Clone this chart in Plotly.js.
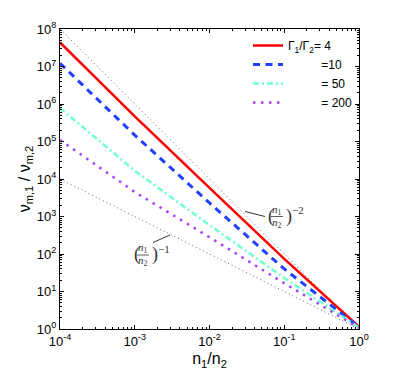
<!DOCTYPE html>
<html>
<head>
<meta charset="utf-8">
<script src="https://cdn.plot.ly/plotly-3.0.1.min.js"></script>
<style>
  html, body { margin: 0; padding: 0; background: #fff; }
  #graph { width: 405px; height: 374px; }
</style>
</head>
<body>
<div id="graph"></div>
<script>
// density ratio n1/n2 (x axis)
const nRatio = [1e-4, 1e-3, 1e-2, 1e-1, 1];

// nu_m,1 / nu_m,2 for each Gamma1/Gamma2
const gamma4 = [4.4e7, 4.7e5, 5.8e3, 74, 1.15];
const gamma10 = [1.22e7, 1.48e5, 2.3e3, 40, 1.12];
const gamma50 = [7.8e5, 1.66e4, 590, 23, 1.1];
const gamma200 = [1.1e5, 4.5e3, 280, 16.6, 1.07];

// guide lines (n1/n2)^-2 and (n1/n2)^-1
const guideSlope2 = [1e8, 1e6, 1e4, 1e2, 1];
const guideSlope1 = [1e4, 1e3, 1e2, 1e1, 1];

// tick labels
const xTickVals = [1e-4, 1e-3, 1e-2, 1e-1, 1];
const xTickText = ['10<sup>-4</sup>', '10<sup>-3</sup>', '10<sup>-2</sup>', '10<sup>-1</sup>', '10<sup>0</sup>'];
const yTickVals = [1, 1e1, 1e2, 1e3, 1e4, 1e5, 1e6, 1e7, 1e8];
const yTickText = ['10<sup>0</sup>', '10<sup>1</sup>', '10<sup>2</sup>', '10<sup>3</sup>', '10<sup>4</sup>',
                   '10<sup>5</sup>', '10<sup>6</sup>', '10<sup>7</sup>', '10<sup>8</sup>'];

const pad = '\u00a0'.repeat(10);
const legendNames = [
    'Γ<sub>1</sub>/Γ<sub>2</sub>= 4',
    pad + '=10',
    pad + '= 50',
    pad + '= 200'
];

const sans = 'Liberation Sans, Arial, sans-serif';
const serif = 'Liberation Serif, DejaVu Serif, serif';

const traces = [
    {x: nRatio, y: guideSlope2, mode: 'lines', showlegend: false,
     line: {color: '#666', width: 1, dash: '1px,3px'}},
    {x: nRatio, y: guideSlope1, mode: 'lines', showlegend: false,
     line: {color: '#666', width: 1, dash: '1px,3px'}},
    {x: nRatio, y: gamma4, mode: 'lines', name: legendNames[0],
     line: {color: '#ff0000', width: 2.5}},
    {x: nRatio, y: gamma10, mode: 'lines', name: legendNames[1],
     line: {color: '#1f40ff', width: 3, dash: '7px,5.5px'}},
    {x: nRatio, y: gamma50, mode: 'lines', name: legendNames[2],
     line: {color: '#70ffd2', width: 2.5, dash: '6px,3px,2px,3px'}},
    {x: nRatio, y: gamma200, mode: 'lines', name: legendNames[3],
     line: {color: '#a640ff', width: 2.5, dash: '2.5px,5.5px'}}
];

// minor ticks 2..9 in every decade
function minorTicks(lo, hi) {
    const out = [];
    for (let e = lo; e < hi; e++) {
        for (let m = 2; m <= 9; m++) out.push(m * Math.pow(10, e));
    }
    return out;
}

// plot area in pixels, used to place the hand-made fraction labels
const L = 60, R = 359, T = 29, B = 329;
const px = v => (v - L) / (R - L);
const py = v => 1 - (v - T) / (B - T);

const annotations = [];
const shapes = [];

// draws (n1/n2)^exp as a stacked fraction, like the LaTeX label
function fracLabel(x0, cy, exp, lead) {
    const base = {xref: 'paper', yref: 'paper', showarrow: false,
                  font: {family: serif, size: 11, color: '#333'}};
    annotations.push(Object.assign({}, base, {
        x: px(x0), y: py(cy), xanchor: 'left', yanchor: 'middle', text: '(',
        font: {family: serif, size: 18, color: '#333'}}));
    annotations.push(Object.assign({}, base, {
        x: px(x0 + 11), y: py(cy - 6.5), xanchor: 'center', yanchor: 'middle',
        text: '<i>n</i><sub>1</sub>'}));
    annotations.push(Object.assign({}, base, {
        x: px(x0 + 11), y: py(cy + 6.5), xanchor: 'center', yanchor: 'middle',
        text: '<i>n</i><sub>2</sub>'}));
    annotations.push(Object.assign({}, base, {
        x: px(x0 + 18), y: py(cy), xanchor: 'left', yanchor: 'middle', text: ')',
        font: {family: serif, size: 18, color: '#333'}}));
    annotations.push(Object.assign({}, base, {
        x: px(x0 + 24), y: py(cy - 6), xanchor: 'left', yanchor: 'middle',
        text: '−' + exp, font: {family: serif, size: 11, color: '#333'}}));
    shapes.push({type: 'line', xref: 'paper', yref: 'paper',
        x0: px(x0 + 5), x1: px(x0 + 17), y0: py(cy + 0.5), y1: py(cy + 0.5),
        line: {color: '#333', width: 0.8}});
    shapes.push({type: 'line', xref: 'paper', yref: 'paper',
        x0: px(lead[0]), y0: py(lead[1]), x1: px(lead[2]), y1: py(lead[3]),
        line: {color: '#333', width: 1}});
}

fracLabel(266, 216, 2, [245, 211.5, 265, 216.5]);
fracLabel(132, 254.5, 1, [153, 242.5, 170, 235]);

const axisCommon = {
    type: 'log',
    tickmode: 'array',
    showgrid: false,
    zeroline: false,
    showline: true,
    linecolor: '#000',
    linewidth: 1,
    mirror: 'ticks',
    ticks: 'inside',
    ticklen: 4,
    tickcolor: '#000',
    tickfont: {family: sans, size: 13, color: '#000'}
};

const layout = {
    width: 405,
    height: 374,
    margin: {l: 60, r: 46, t: 29, b: 45},
    paper_bgcolor: '#fff',
    plot_bgcolor: '#fff',
    font: {family: sans, color: '#000'},
    xaxis: Object.assign({}, axisCommon, {
        range: [-4, 0],
        tickvals: xTickVals,
        ticktext: xTickText,
        minor: {tickmode: 'array', tickvals: minorTicks(-4, 0), ticks: 'inside',
                ticklen: 2, tickcolor: '#000', showgrid: false},
        title: {text: 'n<sub>1</sub>/n<sub>2</sub>', font: {family: sans, size: 16}, standoff: 5}
    }),
    yaxis: Object.assign({}, axisCommon, {
        range: [0, 8],
        tickvals: yTickVals,
        ticktext: yTickText,
        minor: {tickmode: 'array', tickvals: minorTicks(0, 8), ticks: 'inside',
                ticklen: 2, tickcolor: '#000', showgrid: false},
        title: {text: 'ν<sub>m,1</sub> / ν<sub>m,2</sub>', font: {family: sans, size: 16}, standoff: 2}
    }),
    legend: {
        x: px(248), y: py(31), xanchor: 'left', yanchor: 'top',
        bgcolor: 'rgba(0,0,0,0)',
        font: {family: sans, size: 12, color: '#000'},
        tracegroupgap: 0
    },
    showlegend: true,
    annotations: annotations,
    shapes: shapes
};

Plotly.newPlot('graph', traces, layout, {staticPlot: true});
</script>
</body>
</html>
